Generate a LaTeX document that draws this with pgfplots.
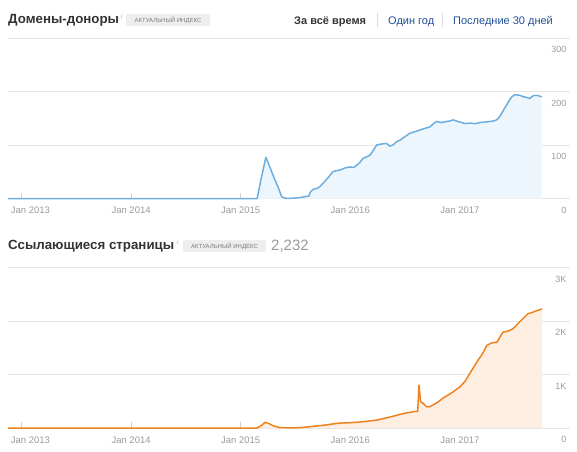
\documentclass[border=0pt]{standalone}
\usepackage{fontspec}
\setmainfont{Liberation Sans}
\usepackage{pgfplots}
\pgfplotsset{compat=1.18}
\definecolor{gridc}{HTML}{E6E6E6}
\definecolor{tickc}{HTML}{9A9A9A}
\definecolor{tickm}{HTML}{D0D0D0}
\definecolor{blueline}{HTML}{6EAEDF}
\definecolor{bluefill}{HTML}{EEF6FD}
\definecolor{orline}{HTML}{F0821E}
\definecolor{orfill}{HTML}{FDEEE1}
\definecolor{titlec}{HTML}{333333}
\definecolor{linkc}{HTML}{1F4E96}
\definecolor{badgec}{HTML}{EEEEEE}
\definecolor{badget}{HTML}{7A7A7A}
\definecolor{sepc}{HTML}{DDDDDD}

\pgfplotstableread{
t v
-0.123 0
2.15 0
2.19 40
2.23 77
2.26 62
2.30 41
2.34 22
2.375 3
2.42 0
2.50 1
2.55 2
2.60 4
2.625 5
2.635 12
2.66 17
2.70 19
2.72 22
2.75 28
2.78 35
2.81 42
2.84 50
2.87 52
2.905 53
2.95 57
2.997 59
3.03 58
3.058 62
3.09 68
3.116 75
3.15 78
3.18 81
3.21 90
3.241 100
3.29 102
3.33 103
3.36 98
3.39 100
3.42 106
3.454 109
3.50 116
3.545 122
3.59 125
3.636 128
3.68 131
3.727 134
3.76 140
3.788 144
3.83 142
3.879 144
3.91 145
3.94 147
3.98 144
4.016 142
4.05 140
4.092 141
4.14 140
4.183 142
4.23 143
4.275 144
4.31 145
4.336 147
4.36 152
4.381 159
4.40 166
4.427 175
4.45 183
4.473 190
4.50 194
4.548 193
4.58 190
4.609 189
4.64 187
4.66 191
4.685 193
4.72 192
4.746 190
}\domains

\pgfplotstableread{
t v
-0.123 0
2.15 0
2.19 50
2.222 106
2.26 80
2.30 40
2.358 8
2.45 3
2.514 5
2.57 12
2.632 25
2.69 38
2.751 50
2.82 70
2.879 87
2.94 95
2.998 100
3.06 108
3.116 118
3.18 132
3.244 149
3.29 170
3.335 193
3.40 225
3.454 255
3.52 285
3.591 310
3.615 312
3.627 800
3.642 490
3.66 470
3.697 397
3.727 400
3.79 470
3.846 559
3.92 650
4.001 770
4.05 880
4.092 1024
4.13 1150
4.165 1266
4.21 1400
4.247 1546
4.29 1590
4.339 1607
4.36 1680
4.393 1793
4.44 1810
4.484 1856
4.53 1950
4.575 2042
4.621 2136
4.66 2160
4.706 2197
4.751 2225
}\pages

\pgfplotsset{mystyle/.style={
  scale only axis, width=562pt, height=160.5pt,
  xmin=-0.123, xmax=5.005, ymin=0,
  axis line style={draw=none},
  xtick={0,1,2,3,4},
  xticklabels={\hspace*{18pt}Jan 2013, Jan 2014, Jan 2015, Jan 2016, Jan 2017},
  xtick pos=lower, tick align=inside, major tick length=6pt,
  xtick style={tickm, line width=0.6pt},
  xticklabel style={font=\fontsize{9.5}{11}\selectfont, text=tickc, yshift=-5pt},
  ytick pos=right, yticklabel pos=right,
  ytick style={draw=none},
  ymajorgrids, grid style={gridc, line width=0.8pt},
  yticklabel style={anchor=north east, font=\fontsize{9}{11}\selectfont, text=tickc, yshift=-5pt},
  clip=false,
}}

\begin{document}
\begin{tikzpicture}[x=1pt,y=1pt]
\useasboundingbox (0,0) rectangle (577,-451);

% top chart
\begin{axis}[mystyle, at={(8pt,-198.5pt)}, anchor=south west,
  ymax=300, ytick={0,100,200,300}, yticklabels={0,100,200,300}]
  \addplot[fill=bluefill, draw=none] table[x=t,y=v]{\domains} \closedcycle;
  \addplot[blueline, line width=1.5pt, line join=round] table[x=t,y=v]{\domains};
\end{axis}

% bottom chart
\begin{axis}[mystyle, at={(8pt,-428pt)}, anchor=south west,
  ymax=3000, ytick={0,1000,2000,3000}, yticklabels={0,1K,2K,3K}]
  \addplot[fill=orfill, draw=none] table[x=t,y=v]{\pages} \closedcycle;
  \addplot[orline, line width=1.5pt, line join=round] table[x=t,y=v]{\pages};
\end{axis}

% header 1
\node[anchor=base west, inner sep=0, text=titlec, font=\fontsize{13.3}{16}\selectfont\bfseries] at (8,-23.3) {Домены-доноры};
\node[anchor=base west, inner sep=0, text=tickc, font=\fontsize{6}{7}\selectfont] at (121,-18) {i};
\fill[badgec, rounded corners=2pt] (126,-14) rectangle (210,-26);
\node[anchor=center, inner sep=0, text=badget, font=\fontsize{6}{7}\selectfont] at (168,-20.3) {АКТУАЛЬНЫЙ ИНДЕКС};

\node[anchor=base west, inner sep=0, text=titlec, font=\fontsize{11}{13}\selectfont\bfseries] at (294,-24) {За всё время};
\draw[sepc, line width=0.8pt] (377,-13) -- (377,-27);
\node[anchor=base west, inner sep=0, text=linkc, font=\fontsize{11}{13}\selectfont] at (388,-24) {Один год};
\draw[sepc, line width=0.8pt] (442,-13) -- (442,-27);
\node[anchor=base west, inner sep=0, text=linkc, font=\fontsize{11}{13}\selectfont] at (453,-24) {Последние 30 дней};

% header 2
\node[anchor=base west, inner sep=0, text=titlec, font=\fontsize{13.3}{16}\selectfont\bfseries] at (8,-249) {Ссылающиеся страницы};
\node[anchor=base west, inner sep=0, text=tickc, font=\fontsize{6}{7}\selectfont] at (177,-244) {i};
\fill[badgec, rounded corners=2pt] (183,-240) rectangle (266,-252);
\node[anchor=center, inner sep=0, text=badget, font=\fontsize{6}{7}\selectfont] at (224.5,-246.3) {АКТУАЛЬНЫЙ ИНДЕКС};
\node[anchor=base west, inner sep=0, text=tickc, font=\fontsize{15}{17}\selectfont] at (271,-250) {2,232};
\end{tikzpicture}
\end{document}
